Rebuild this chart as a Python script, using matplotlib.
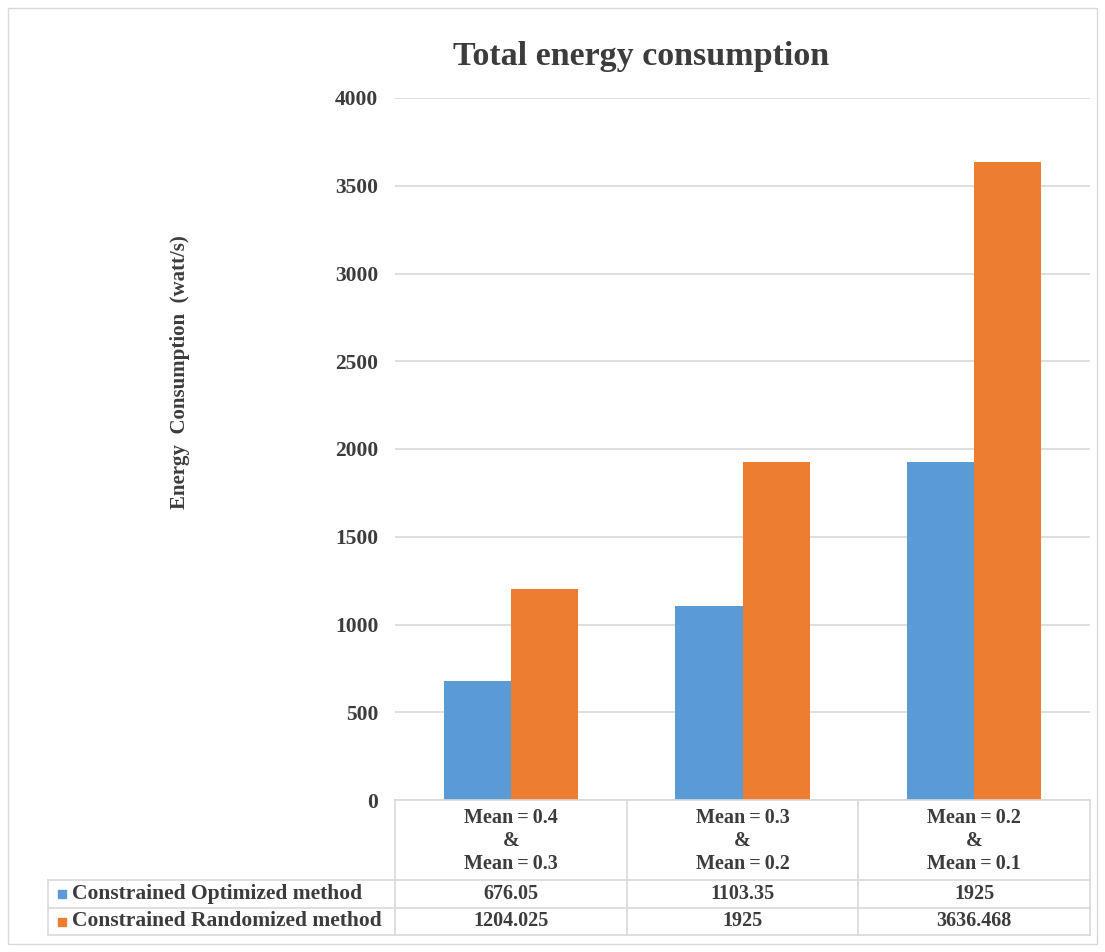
import matplotlib.pyplot as plt
from matplotlib.patches import Rectangle

plt.rcParams['font.family'] = ['Liberation Serif', 'DejaVu Serif']
plt.rcParams['font.weight'] = 'bold'

categories = ['Mean\u2009=\u20090.4\n&\nMean\u2009=\u20090.3',
              'Mean\u2009=\u20090.3\n&\nMean\u2009=\u20090.2',
              'Mean\u2009=\u20090.2\n&\nMean\u2009=\u20090.1']
optimized = [676.05, 1103.35, 1925]
randomized = [1204.025, 1925, 3636.468]
optimized_labels = ['676.05', '1103.35', '1925']
randomized_labels = ['1204.025', '1925', '3636.468']
series_names = ['Constrained Optimized method', 'Constrained Randomized method']

blue = '#5B9BD5'
orange = '#ED7D31'
text_c = '#3C3C3C'
grid_c = '#D9D9D9'

W, H = 1105, 952
fig = plt.figure(figsize=(W / 100, H / 100), dpi=100)

# main plot area (pixel geometry)
ax_l, ax_r, ax_t, ax_b = 395, 1090, 98, 800
ax = fig.add_axes([ax_l / W, 1 - ax_b / H, (ax_r - ax_l) / W, (ax_b - ax_t) / H])

x = range(len(categories))
bw = 0.29
ax.bar([i - bw / 2 for i in x], optimized, bw, color=blue, zorder=2)
ax.bar([i + bw / 2 for i in x], randomized, bw, color=orange, zorder=2)

ax.set_xlim(-0.5, 2.5)
ax.set_ylim(0, 4000)
ax.set_yticks(range(0, 4001, 500))
ax.yaxis.grid(True, color=grid_c, linewidth=1.2, zorder=0)
ax.tick_params(axis='y', length=0, pad=12, labelsize=15.5, labelcolor=text_c)
ax.set_xticks([])
for s in ['top', 'right', 'left']:
    ax.spines[s].set_visible(False)
ax.spines['bottom'].set_color(grid_c)
ax.spines['bottom'].set_linewidth(1.2)

fig.text(641 / W, 1 - 57 / H, 'Total energy consumption', ha='center', va='center',
         fontsize=24.5, color=text_c, fontweight='bold')
fig.text(180 / W, 1 - 372 / H, 'Energy  Consumption  (watt/s)', ha='center', va='center',
         rotation=90, fontsize=15, color=text_c, fontweight='bold')

# data table below the axis, drawn in pixel coordinates
tab = fig.add_axes([0, 0, 1, 1], facecolor='none')
tab.set_xlim(0, W)
tab.set_ylim(H, 0)
tab.axis('off')

col_w = (ax_r - ax_l) / 3
row_cat, row1, row2, row3 = 800, 880, 908, 935
tab_left = 48
lk = dict(color=grid_c, linewidth=1.2)
tab.plot([tab_left, ax_r], [row1, row1], **lk)
tab.plot([tab_left, ax_r], [row2, row2], **lk)
tab.plot([tab_left, ax_r], [row3, row3], **lk)
tab.plot([tab_left, tab_left], [row1, row3], **lk)
for i in range(4):
    xx = ax_l + i * col_w
    tab.plot([xx, xx], [row_cat, row3], **lk)

for i, cat in enumerate(categories):
    cx = ax_l + (i + 0.5) * col_w
    tab.text(cx, (row_cat + row1) / 2 + 1, cat, ha='center', va='center', fontsize=14.5,
             color=text_c, linespacing=1.2)
    tab.text(cx, (row1 + row2) / 2, optimized_labels[i], ha='center', va='center',
             fontsize=14.5, color=text_c)
    tab.text(cx, (row2 + row3) / 2, randomized_labels[i], ha='center', va='center',
             fontsize=14.5, color=text_c)

for name, col, (y0, y1) in zip(series_names, [blue, orange], [(row1, row2), (row2, row3)]):
    yc = (y0 + y1) / 2
    tab.add_patch(Rectangle((58, yc - 4), 8, 8, color=col))
    tab.text(72, yc, name, ha='left', va='center', fontsize=15.5, color=text_c)

# outer chart frame
tab.add_patch(Rectangle((8, 8), W - 16, H - 16, fill=False, edgecolor=grid_c, linewidth=1))

fig.savefig('out.png', dpi=100)
